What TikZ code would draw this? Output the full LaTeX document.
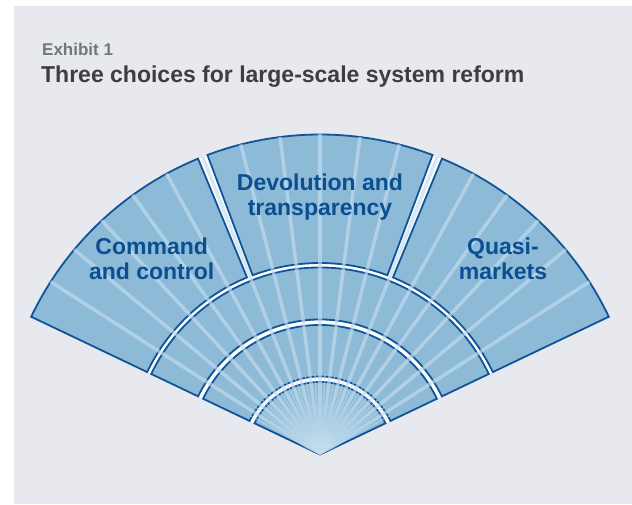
\documentclass[tikz,border=0pt]{standalone}
\usepackage{fontspec}
\setmainfont{Liberation Sans}
\usetikzlibrary{positioning}

\definecolor{panelgray}{HTML}{E8E9EE}
\definecolor{fanfill}{HTML}{8DBAD7}
\definecolor{fanline}{HTML}{10549A}
\definecolor{labelblue}{HTML}{0B4E92}
\definecolor{raylight}{HTML}{C4DCEE}
\definecolor{headgray}{HTML}{3E3E3E}
\definecolor{exhibitgray}{HTML}{72777B}

\tikzset{
  band/.style={fill=fanfill, draw=fanline, line width=1.8pt},
  ray/.style={draw=raylight, opacity=.65, line width=3.5pt},
  fanlabel/.style={font=\bfseries\fontsize{23}{25}\selectfont, text=labelblue, align=center},
  headline/.style={font=\bfseries\fontsize{23}{27}\selectfont, text=headgray, inner sep=0pt},
  exhibit/.style={font=\bfseries\fontsize{17}{20}\selectfont, text=exhibitgray, inner sep=0pt}
}

% start angle, end angle, inner radius, outer radius
\newcommand{\fanband}[4]{%
  \path[band] (#1:#3) -- (#1:#4) arc[start angle=#1, end angle=#2, radius=#4]
    -- (#2:#3) arc[start angle=#2, end angle=#1, radius=#3] -- cycle;}

\begin{document}
\begin{tikzpicture}[x=1pt, y=1pt]
  \useasboundingbox (-320,-49.5) rectangle (312,454.5);
  \fill[white] (-320,-49.5) rectangle (312,454.5);
  \fill[panelgray] (-306,-49.5) rectangle (312,448.5);

  \node[exhibit, anchor=base west] (exhibit) at (-278,398.8) {Exhibit 1};
  \node[headline, anchor=base west] (headline) at (-279,371.8) {Three choices for large-scale system reform};

  % fan
  \fill[white] (0,0) -- (25.5:320pt) arc[start angle=25.5, end angle=154.5, radius=320pt] -- cycle;
  \path[band] (0,0) -- (25.5:72.5pt) arc[start angle=25.5, end angle=154.5, radius=72.5pt] -- cycle;
  \fanband{25.5}{154.5}{78pt}{129.5pt}
  \fanband{25.5}{154.5}{135pt}{187pt}
  \fanband{25.5}{67.6}{191.5pt}{320pt}
  \fanband{69.4}{110.6}{191.5pt}{320pt}
  \fanband{112.4}{154.5}{191.5pt}{320pt}

  \begin{scope}
    \clip (0,0) -- (25.5:321pt) arc[start angle=25.5, end angle=154.5, radius=321pt] -- cycle;
    \foreach \k in {1,...,17}
      \draw[ray] (0,0) -- ({25.5+\k*129/18}:320pt);
    \foreach \k in {0,...,17}
      \draw[ray, line width=1.4pt, opacity=.5] (0,0) -- ({25.5+(\k+0.5)*129/18}:80pt);
  \end{scope}

  \node[fanlabel] (command) at (-168.3,195.4) {Command\\and control};
  \node[fanlabel] (devolution) at (0,257.5) {Devolution and\\transparency};
  \node[fanlabel] (quasi) at (183,195.4) {Quasi-\\markets};
\end{tikzpicture}
\end{document}
